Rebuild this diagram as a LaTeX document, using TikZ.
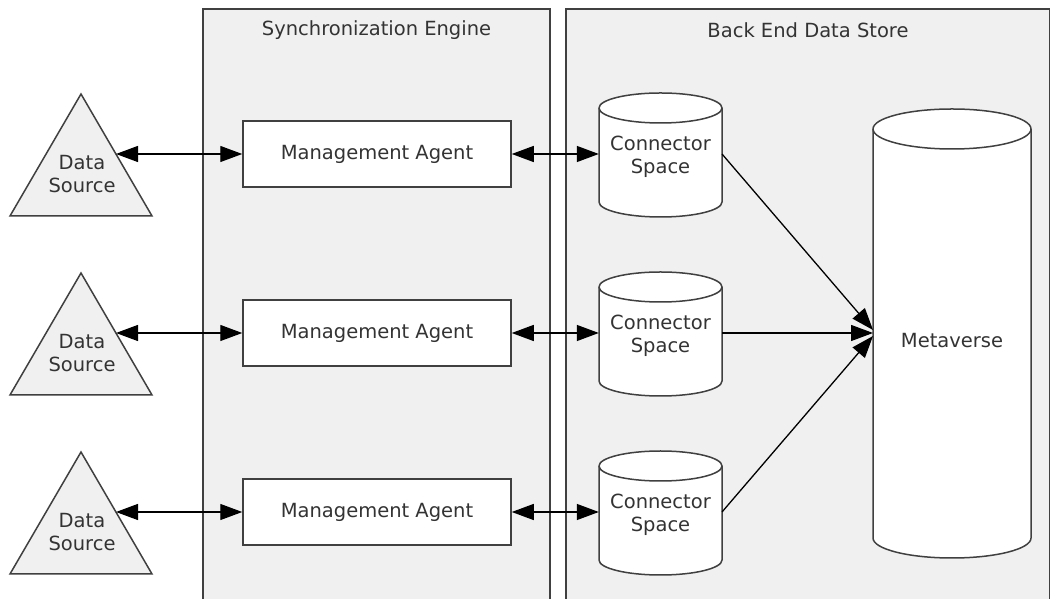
\documentclass[tikz,border=0pt]{standalone}
\usepackage{fontspec}
\setmainfont{DejaVu Sans}
\usetikzlibrary{arrows.meta}
\definecolor{panelgray}{HTML}{F0F0F0}
\definecolor{linegray}{HTML}{404040}
\definecolor{textgray}{HTML}{333333}
\tikzset{
  panel/.style={draw=linegray, line width=1.8pt, fill=panelgray},
  mabox/.style={draw=linegray, line width=1.5pt, fill=white, minimum width=268pt, minimum height=66pt, inner sep=0pt, text=textgray},
  lbl/.style={text=textgray, align=center, inner sep=0pt},
  dsshape/.style={draw=linegray, line width=1.5pt, fill=panelgray, line join=miter},
  cylstyle/.style={draw=linegray, line width=1.5pt, fill=white},
  tip/.tip={Triangle[length=22pt,width=16pt]},
  link/.style={draw=black, line width=1.3pt, -tip},
  dlink/.style={draw=black, line width=1.3pt, tip-tip},
}
\newcommand\mycyl[5]{%
  \draw[cylstyle] (#1-#2,#3) -- (#1-#2,#4) arc[start angle=180,end angle=360,x radius=#2,y radius=#5] -- (#1+#2,#3) arc[start angle=0,end angle=180,x radius=#2,y radius=#5] -- cycle;
  \draw[cylstyle, fill=none] (#1-#2,#3) arc[start angle=180,end angle=360,x radius=#2,y radius=#5];
}
\begin{document}
\begin{tikzpicture}[x=1pt,y=1pt,font=\fontsize{19.5}{23}\selectfont]
\useasboundingbox (0,0) rectangle (1051,599);
\clip (0,0) rectangle (1051,599);
\fill[white] (0,0) rectangle (1051,599);
% panels
\draw[panel] (203,-20) rectangle (550,590);
\draw[panel] (566,-20) rectangle (1049.5,590);
\node[lbl] (title1) at (376.5,569) {Synchronization Engine};
\node[lbl] (title2) at (808,569) {Back End Data Store};
% metaverse
\mycyl{952}{79}{470}{61}{20}
\node[lbl, minimum width=158pt] (mv) at (952,258) {Metaverse};
\coordinate (mvin) at (873,266);
% rows
\foreach \r/\i in {445/1,266/2,87/3}{
  \draw[dsshape] (81,\r+60) -- (152,\r-62) -- (10,\r-62) -- cycle;
  \node[lbl] (ds\i) at (82,\r-20) {Data\\Source};
  \coordinate (dsr\i) at (116,\r);
  \node[mabox] (ma\i) at (377,\r) {Management Agent};
  \mycyl{660.5}{61.5}{\r+46}{\r-48}{15}
  \node[lbl, minimum width=123pt] (cs\i) at (660.5,\r-3) {Connector\\Space};
  \coordinate (cso\i) at (722,\r);
  \draw[dlink] (dsr\i) -- (ma\i.west);
  \draw[dlink] (ma\i.east) -- (ma\i.east -| cs\i.west);
}
\draw[link] (cso1) -- (873,269);
\draw[link] (cso2) -- (mvin);
\draw[link] (cso3) -- (873,263);
\end{tikzpicture}
\end{document}
